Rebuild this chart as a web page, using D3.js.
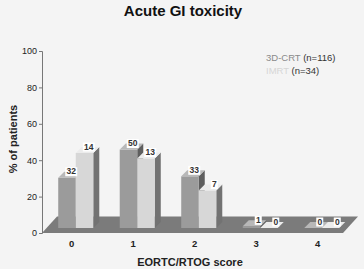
<!DOCTYPE html>
<html>
<head>
<meta charset="utf-8">
<script src="https://cdn.jsdelivr.net/npm/d3@7"></script>
<style>
  body { margin: 0; background: #f4f4f4; }
  svg { display: block; font-family: Arial, "Liberation Sans", sans-serif; }
</style>
</head>
<body>
<div id="chart"></div>
<script>
// data
var scores = ["0", "1", "2", "3", "4"];
var seriesNames = ["3D-CRT", "IMRT"];
var seriesN = ["(n=116)", "(n=34)"];
var crtPct = [27.6, 43.1, 28.4, 0.9, 0];   // bar heights, % of patients
var imrtPct = [41.2, 38.2, 20.6, 0, 0];
var crtCount = [32, 50, 33, 1, 0];         // numbers printed on bars
var imrtCount = [14, 13, 7, 0, 0];
var yTicks = [0, 20, 40, 60, 80, 100];

var width = 364, height = 269;

var svg = d3.select("#chart").append("svg")
    .attr("width", width)
    .attr("height", height);

svg.append("rect").attr("width", width).attr("height", height).attr("fill", "#f4f4f4");

var y = d3.scaleLinear().domain([0, 100]).range([233, 51]);

var x0 = d3.scaleBand().domain(scores).range([45, 352.5])
    .paddingInner(0.43).paddingOuter(0.215);
var x1 = d3.scaleBand().domain(seriesNames).range([0, x0.bandwidth()]);

// depth of the bars and of the floor
var dx = 6, dy = -6;
var base = 228;

// floor slab
svg.append("path")
    .attr("d", "M42,233 L57,216.5 L358,216.5 L343,233 Z")
    .attr("fill", "#7b7b7b");

// y axis
var yAxis = svg.append("g")
    .attr("transform", "translate(42,0)")
    .call(d3.axisLeft(y).tickValues(yTicks).tickSize(3).tickPadding(2));
yAxis.select(".domain").attr("stroke", "#777");
yAxis.selectAll(".tick line").attr("stroke", "#777");
yAxis.selectAll("text").attr("font-size", 9).attr("fill", "#222")
    .attr("font-family", "Arial, 'Liberation Sans', sans-serif");

// bars
var colors = {
  "3D-CRT": {front: "#9b9b9b", top: "#b8b8b8", side: "#5e5e5e"},
  "IMRT": {front: "#d7d7d7", top: "#ececec", side: "#727272"}
};

var rows = [];
scores.forEach(function(s, i) {
  rows.push({score: s, name: "3D-CRT", pct: crtPct[i], count: crtCount[i]});
  rows.push({score: s, name: "IMRT", pct: imrtPct[i], count: imrtCount[i]});
});

var bw = x1.bandwidth();

var bars = svg.append("g").selectAll("g")
    .data(rows)
    .enter().append("g");

bars.each(function(d) {
  var g = d3.select(this);
  var xl = x0(d.score) + x1(d.name);
  var h = y(0) - y(d.pct);
  var top = base - h;
  var c = colors[d.name];
  // side
  g.append("path")
      .attr("d", "M" + (xl + bw) + "," + base + " L" + (xl + bw + dx) + "," + (base + dy) +
                 " L" + (xl + bw + dx) + "," + (top + dy) + " L" + (xl + bw) + "," + top + " Z")
      .attr("fill", c.side);
  // front
  g.append("rect")
      .attr("x", xl).attr("y", top)
      .attr("width", bw).attr("height", h)
      .attr("fill", c.front);
  // top
  g.append("path")
      .attr("d", "M" + xl + "," + top + " L" + (xl + dx) + "," + (top + dy) +
                 " L" + (xl + bw + dx) + "," + (top + dy) + " L" + (xl + bw) + "," + top + " Z")
      .attr("fill", c.top);
});

// value boxes
var labels = svg.append("g").selectAll("g")
    .data(rows)
    .enter().append("g");

labels.each(function(d) {
  var g = d3.select(this);
  var xl = x0(d.score) + x1(d.name);
  var top = base - (y(0) - y(d.pct));
  var txt = String(d.count);
  var boxW = txt.length > 1 ? 12 : 7;
  var xr = xl + bw + 1.5;
  g.append("rect")
      .attr("x", xr - boxW).attr("y", top - 10.5)
      .attr("width", boxW).attr("height", 9)
      .attr("fill", "#ffffff");
  g.append("text")
      .attr("x", xr - boxW / 2).attr("y", top - 3.3)
      .attr("text-anchor", "middle")
      .attr("font-size", 8.5)
      .attr("font-weight", "bold")
      .attr("fill", "#333")
      .text(txt);
});

// x category labels
svg.append("g").selectAll("text")
    .data(scores)
    .enter().append("text")
    .attr("x", function(d) { return x0(d) + x0.bandwidth() / 2 - 4; })
    .attr("y", 247)
    .attr("text-anchor", "middle")
    .attr("font-size", 9.5)
    .attr("font-weight", "bold")
    .attr("fill", "#222")
    .text(function(d) { return d; });

// titles
svg.append("text")
    .attr("x", 183).attr("y", 16)
    .attr("text-anchor", "middle")
    .attr("font-size", 15)
    .attr("font-weight", "bold")
    .attr("fill", "#111")
    .text("Acute GI toxicity");

svg.append("text")
    .attr("x", 190).attr("y", 266)
    .attr("text-anchor", "middle")
    .attr("font-size", 11)
    .attr("font-weight", "bold")
    .attr("fill", "#222")
    .text("EORTC/RTOG score");

svg.append("text")
    .attr("transform", "translate(17,139) rotate(-90)")
    .attr("text-anchor", "middle")
    .attr("font-size", 11)
    .attr("font-weight", "bold")
    .attr("fill", "#222")
    .text("% of patients");

// legend
var legendColors = ["#8a8a8a", "#d6d6d6"];
var legend = svg.append("g").selectAll("text")
    .data(seriesNames)
    .enter().append("text")
    .attr("x", 266)
    .attr("y", function(d, i) { return 61 + i * 12.5; })
    .attr("font-size", 9.5);
legend.append("tspan")
    .attr("fill", function(d, i) { return legendColors[i]; })
    .text(function(d) { return d + " "; });
legend.append("tspan")
    .attr("fill", "#333")
    .text(function(d, i) { return seriesN[i]; });
</script>
</body>
</html>
